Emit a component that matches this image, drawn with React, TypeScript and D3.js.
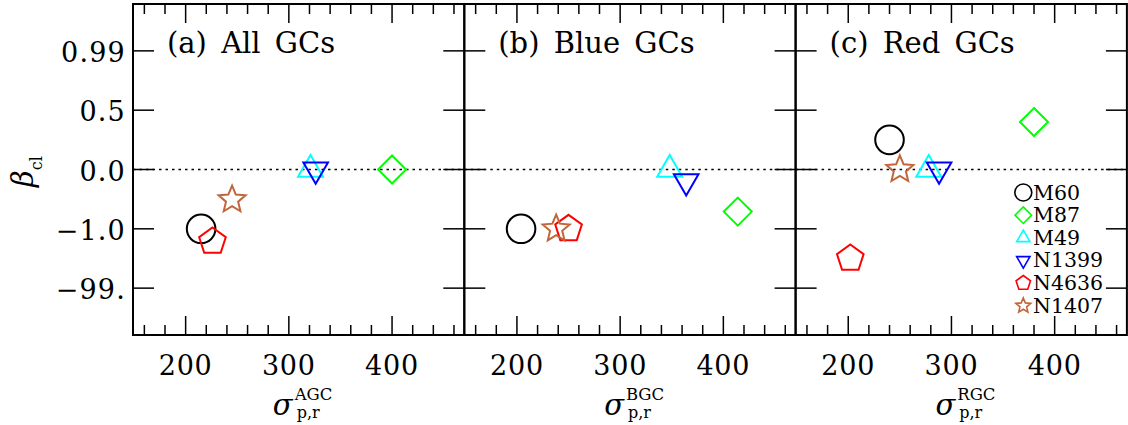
import React from 'react';
import * as d3 from 'd3';

// ---- data ----
const galaxies = ['M60', 'M87', 'M49', 'N1399', 'N4636', 'N1407'];
const shapes = ['circle', 'diamond', 'triUp', 'triDown', 'pentagon', 'star'];
const colors = ['#000000', '#00ff00', '#00ffff', '#0000ff', '#ff0000', '#c0663a'];

const panelTitles = ['(a) All GCs', '(b) Blue GCs', '(c) Red GCs'];
const panelSuperscripts = ['AGC', 'BGC', 'RGC'];

const sigmaAll = [215, 400, 321, 326, 226, 245];
const betaAll = [-1.0, 0.0, 0.0, 0.0, -22, -0.51];
const sigmaBlue = [204, 414, 348, 364, 250, 238];
const betaBlue = [-1.0, -0.71, 0.0, -0.2, -1.0, -1.0];
const sigmaRed = [240, 380, 278, 288, 202, 250];
const betaRed = [0.25, 0.4, 0.0, 0.0, -50, 0.0];

const yTickValues = [-99, -1.0, 0.0, 0.5, 0.99];
const yTickLabels = ['\u221299.', '\u22121.0', '0.0', '0.5', '0.99'];
const xTickValues = [200, 300, 400];
const xTickLabels = ['200', '300', '400'];

const panelSigmas = [sigmaAll, sigmaBlue, sigmaRed];
const panelBetas = [betaAll, betaBlue, betaRed];

// ---- layout ----
const LEFT = 133;
const TOP = 4;
const BOTTOM = 335;
const PW = 331.3;
const FONT = '"DejaVu Serif", serif';

const yPos = d3.scaleLinear().domain([-2.79, 2.79]).range([BOTTOM, TOP]);
const y = d3
  .scaleLinear()
  .domain(yTickValues)
  .range(yTickValues.map((_, i) => yPos(i - 2)));

function shapePoints(kind: string, r: number): [number, number][] {
  const s60 = Math.sin(Math.PI / 3);
  if (kind === 'diamond') return [[0, -r], [r, 0], [0, r], [-r, 0]];
  if (kind === 'triUp') return [[0, -r], [r * s60, r / 2], [-r * s60, r / 2]];
  if (kind === 'triDown') return [[0, r], [r * s60, -r / 2], [-r * s60, -r / 2]];
  if (kind === 'pentagon')
    return d3.range(5).map((k) => {
      const a = -Math.PI / 2 + (k * 2 * Math.PI) / 5;
      return [r * Math.cos(a), r * Math.sin(a)] as [number, number];
    });
  // star
  return d3.range(10).map((k) => {
    const a = -Math.PI / 2 + (k * Math.PI) / 5;
    const rr = k % 2 === 0 ? r : r * 0.45;
    return [rr * Math.cos(a), rr * Math.sin(a)] as [number, number];
  });
}

const closedLine = d3.line().curve(d3.curveLinearClosed);

function Marker({ kind, cx, cy, color, big }: { kind: string; cx: number; cy: number; color: string; big: boolean }) {
  const sizes: Record<string, number> = big
    ? { circle: 14.3, diamond: 14, triUp: 14.4, triDown: 14.2, pentagon: 14, star: 14.2 }
    : { circle: 8.5, diamond: 8.3, triUp: 7.7, triDown: 7.7, pentagon: 7.6, star: 7.8 };
  const r = sizes[kind];
  const sw = big ? 2 : 1.6;
  if (kind === 'circle')
    return <circle cx={cx} cy={cy} r={r} fill="none" stroke={color} strokeWidth={sw} />;
  return (
    <path
      d={closedLine(shapePoints(kind, r)) || ''}
      transform={`translate(${cx},${cy})`}
      fill="none"
      stroke={color}
      strokeWidth={sw}
      strokeLinejoin="miter"
    />
  );
}

function Panel({ idx }: { idx: number }) {
  const left = LEFT + idx * PW;
  const right = left + PW;
  const x = d3.scaleLinear().domain([149, 470]).range([left, right]);
  const minor = d3.range(160, 470, 20).filter((v) => !xTickValues.includes(v));
  const sig = panelSigmas[idx];
  const bet = panelBetas[idx];
  const cx = (left + right) / 2;
  return (
    <g>
      {/* zero line */}
      <line x1={left} x2={right} y1={y(0)} y2={y(0)} stroke="#000" strokeWidth={1.5} strokeDasharray="2.5,4" />
      {/* x ticks */}
      {xTickValues.map((v) => (
        <g key={'M' + v}>
          <line x1={x(v)} x2={x(v)} y1={BOTTOM} y2={BOTTOM - 19} stroke="#000" strokeWidth={1.5} />
          <line x1={x(v)} x2={x(v)} y1={TOP} y2={TOP + 19} stroke="#000" strokeWidth={1.5} />
        </g>
      ))}
      {minor.map((v) => (
        <g key={'m' + v}>
          <line x1={x(v)} x2={x(v)} y1={BOTTOM} y2={BOTTOM - 10} stroke="#000" strokeWidth={1.5} />
          <line x1={x(v)} x2={x(v)} y1={TOP} y2={TOP + 10} stroke="#000" strokeWidth={1.5} />
        </g>
      ))}
      {/* y ticks */}
      {yTickValues.map((v) => (
        <g key={'y' + v}>
          <line x1={left} x2={left + 21} y1={y(v)} y2={y(v)} stroke="#000" strokeWidth={1.5} />
          <line x1={right} x2={right - 21} y1={y(v)} y2={y(v)} stroke="#000" strokeWidth={1.5} />
        </g>
      ))}
      {/* frame */}
      <rect x={left} y={TOP} width={PW} height={BOTTOM - TOP} fill="none" stroke="#000" strokeWidth={2} />
      {/* x tick labels */}
      {xTickValues.map((v, i) => (
        <text key={'xl' + v} x={x(v)} y={375} textAnchor="middle" fontFamily={FONT} fontSize={27} letterSpacing={0.8}>
          {xTickLabels[i]}
        </text>
      ))}
      {/* x axis label */}
      <text x={cx - 6} y={415} textAnchor="end" fontFamily={FONT} fontStyle="italic" fontSize={29}>
        σ
      </text>
      <text x={cx - 4} y={399.5} fontFamily={FONT} fontSize={16.5}>
        {panelSuperscripts[idx]}
      </text>
      <text x={cx - 2} y={418} fontFamily={FONT} fontSize={16}>
        p,r
      </text>
      {/* title */}
      <text x={left + 34} y={53} fontFamily={FONT} fontSize={29} wordSpacing={5}>
        {panelTitles[idx]}
      </text>
      {/* markers */}
      {galaxies.map((g, i) => (
        <Marker key={g} kind={shapes[i]} cx={x(sig[i])} cy={y(bet[i])} color={colors[i]} big={true} />
      ))}
    </g>
  );
}

export default function App() {
  const legendX = 1023.3;
  const legendBase = 199.5;
  const legendStep = 22.65;
  return (
    <svg width={1128} height={425} style={{ position: 'absolute', left: 0, top: 0, background: '#fff' }}>
      <rect x={0} y={0} width={1128} height={425} fill="#fff" />
      {[0, 1, 2].map((i) => (
        <Panel key={i} idx={i} />
      ))}
      {/* y tick labels */}
      {yTickValues.map((v, i) => (
        <text key={'yl' + v} x={126} y={y(v) + 11} textAnchor="end" fontFamily={FONT} fontSize={27} letterSpacing={1.2}>
          {yTickLabels[i]}
        </text>
      ))}
      {/* y axis label */}
      <text transform="translate(33,187) rotate(-90)" fontFamily={FONT} fontSize={29}>
        <tspan fontStyle="italic">β</tspan>
        <tspan fontSize={16} dy={9}>cl</tspan>
      </text>
      {/* legend */}
      {galaxies.map((g, i) => (
        <g key={'lg' + g}>
          <Marker kind={shapes[i]} cx={legendX} cy={legendBase + i * legendStep - 7} color={colors[i]} big={false} />
          <text x={1033} y={legendBase + i * legendStep} fontFamily={FONT} fontSize={20.5}>
            {g}
          </text>
        </g>
      ))}
    </svg>
  );
}
